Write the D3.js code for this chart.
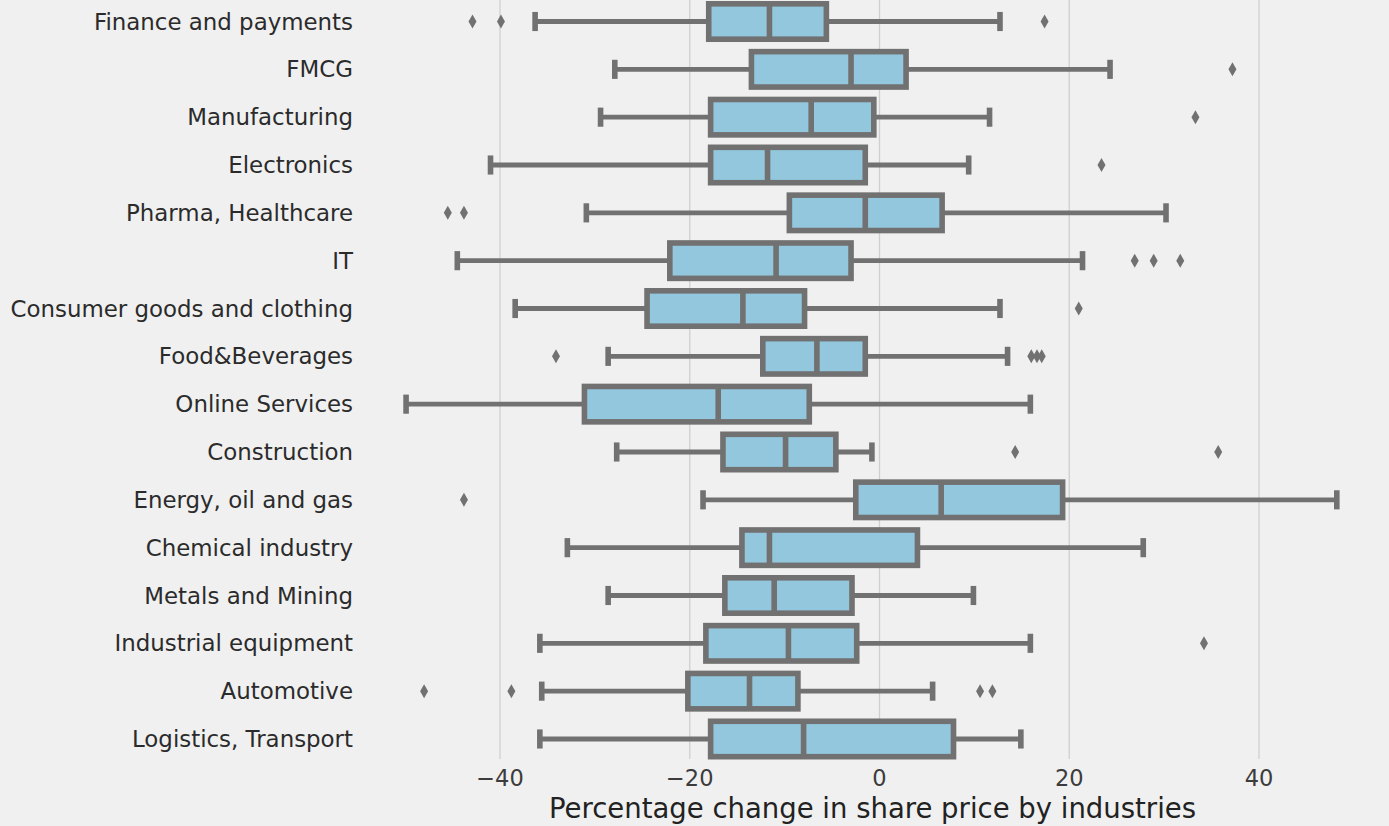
<!DOCTYPE html>
<html>
<head>
<meta charset="utf-8">
<script src="https://cdn.jsdelivr.net/npm/d3@7"></script>
<style>
  html, body { margin: 0; padding: 0; background: #f0f0f0; }
  svg { display: block; font-family: "DejaVu Sans", sans-serif; }
</style>
</head>
<body>
<div id="BoxChart"></div>
<script>
// industries, top to bottom
const industries = ["Finance and payments", "FMCG", "Manufacturing", "Electronics",
    "Pharma, Healthcare", "IT", "Consumer goods and clothing", "Food&Beverages",
    "Online Services", "Construction", "Energy, oil and gas", "Chemical industry",
    "Metals and Mining", "Industrial equipment", "Automotive", "Logistics, Transport"];

const whiskerLow  = [-36.3, -27.9, -29.4, -41.0, -30.9, -44.5, -38.4, -28.6, -49.9, -27.7, -18.6, -32.9, -28.6, -35.8, -35.6, -35.8];
const q1          = [-18.0, -13.5, -17.8, -17.8,  -9.5, -22.1, -24.5, -12.3, -31.1, -16.5,  -2.5, -14.5, -16.3, -18.3, -20.2, -17.8];
const median      = [-11.6,  -3.0,  -7.2, -11.8,  -1.5, -10.9, -14.4,  -6.6, -17.0,  -9.9,   6.5, -11.6, -11.1,  -9.6, -13.7,  -8.0];
const q3          = [ -5.6,   2.8,  -0.6,  -1.5,   6.6,  -3.0,  -7.9,  -1.5,  -7.4,  -4.6,  19.3,   4.0,  -2.9,  -2.4,  -8.6,   7.8];
const whiskerHigh = [ 12.7,  24.3,  11.6,   9.4,  30.2,  21.4,  12.7,  13.5,  15.9,  -0.8,  48.2,  27.8,   9.9,  15.9,   5.6,  14.9];
const outliers = [
    [-42.9, -39.9, 17.4],
    [37.2],
    [33.3],
    [23.4],
    [-45.5, -43.8],
    [26.9, 28.9, 31.7],
    [21.0],
    [-34.1, 16.0, 16.6, 17.1],
    [],
    [14.3, 35.7],
    [-43.8],
    [],
    [],
    [34.2],
    [-48.0, -38.8, 10.6, 11.9],
    []
];
const xTicks = [-40, -20, 0, 20, 40];

const width = 1389, height = 826;
const boxFill = "#93c7dd", edge = "#717171";

function BoxChart()
{
    const svg = d3.select('#BoxChart')
                    .append("svg")
                    .attr('width', width)
                    .attr('height', height);

    svg.append("rect")
        .attr("width", width)
        .attr("height", height)
        .attr("fill", "#f0f0f0");

    const xScale = d3.scaleLinear()
                    .domain([-40, 40])
                    .range([500, 1259]);

    const yScale = d3.scaleBand()
                    .domain(industries)
                    .range([-2.4, 762.9])
                    .padding(0);

    const band = yScale.bandwidth();
    const boxH = band * 0.74;
    const capH = band * 0.4;
    const mid = d => yScale(d) + band / 2;

    // vertical grid
    svg.append('g')
        .selectAll("line")
        .data(xTicks)
        .enter()
        .append("line")
        .attr("x1", d => xScale(d))
        .attr("x2", d => xScale(d))
        .attr("y1", 0)
        .attr("y2", 759)
        .attr("stroke", "#cfcfcf")
        .attr("stroke-width", 1.3);

    // x tick labels
    svg.append('g')
        .selectAll("text")
        .data(xTicks)
        .enter()
        .append("text")
        .attr("x", d => xScale(d))
        .attr("y", 786)
        .attr("text-anchor", "middle")
        .attr("font-size", "22.5px")
        .attr("fill", "#3c3c3c")
        .text(d => d3.format("")(d).replace("-", "\u2212"));

    svg.append("text")
        .attr("x", 872.5)
        .attr("y", 818)
        .attr("text-anchor", "middle")
        .attr("font-size", "27.5px")
        .attr("fill", "#222")
        .text("Percentage change in share price by industries");

    // y tick labels
    svg.append('g')
        .selectAll("text")
        .data(industries)
        .enter()
        .append("text")
        .attr("x", 353)
        .attr("y", d => mid(d))
        .attr("dy", "0.35em")
        .attr("text-anchor", "end")
        .attr("font-size", "22.9px")
        .attr("fill", "#2b2b2b")
        .text(d => d);

    const rows = industries.map((name, i) => ({
        name: name, lo: whiskerLow[i], q1: q1[i], med: median[i],
        q3: q3[i], hi: whiskerHigh[i], out: outliers[i]
    }));

    const g = svg.append('g')
                .attr("stroke", edge)
                .attr("stroke-width", 5.6);

    // whiskers
    g.selectAll(".whiskerL")
        .data(rows)
        .enter()
        .append("line")
        .attr("x1", d => xScale(d.lo))
        .attr("x2", d => xScale(d.q1))
        .attr("y1", d => mid(d.name))
        .attr("y2", d => mid(d.name))
        .attr("stroke-width", 4.8);
    g.selectAll(".whiskerR")
        .data(rows)
        .enter()
        .append("line")
        .attr("x1", d => xScale(d.q3))
        .attr("x2", d => xScale(d.hi))
        .attr("y1", d => mid(d.name))
        .attr("y2", d => mid(d.name))
        .attr("stroke-width", 4.8);

    // caps
    ["lo", "hi"].forEach(k => {
        g.selectAll(".cap" + k)
            .data(rows)
            .enter()
            .append("line")
            .attr("x1", d => xScale(d[k]))
            .attr("x2", d => xScale(d[k]))
            .attr("y1", d => mid(d.name) - capH / 2)
            .attr("y2", d => mid(d.name) + capH / 2);
    });

    // boxes
    g.selectAll(".box")
        .data(rows)
        .enter()
        .append("rect")
        .attr("x", d => xScale(d.q1))
        .attr("width", d => xScale(d.q3) - xScale(d.q1))
        .attr("y", d => mid(d.name) - boxH / 2)
        .attr("height", boxH)
        .attr("fill", boxFill);

    // medians
    g.selectAll(".median")
        .data(rows)
        .enter()
        .append("line")
        .attr("x1", d => xScale(d.med))
        .attr("x2", d => xScale(d.med))
        .attr("y1", d => mid(d.name) - boxH / 2)
        .attr("y2", d => mid(d.name) + boxH / 2);

    // fliers, thin diamonds
    const pts = rows.flatMap(d => d.out.map(v => ({name: d.name, v: v})));
    const diamond = "M0,-7L4,0L0,7L-4,0Z";
    svg.append('g')
        .selectAll("path")
        .data(pts)
        .enter()
        .append("path")
        .attr("d", diamond)
        .attr("transform", d => `translate(${xScale(d.v)},${mid(d.name)})`)
        .attr("fill", edge);
}

BoxChart();
</script>
</body>
</html>
